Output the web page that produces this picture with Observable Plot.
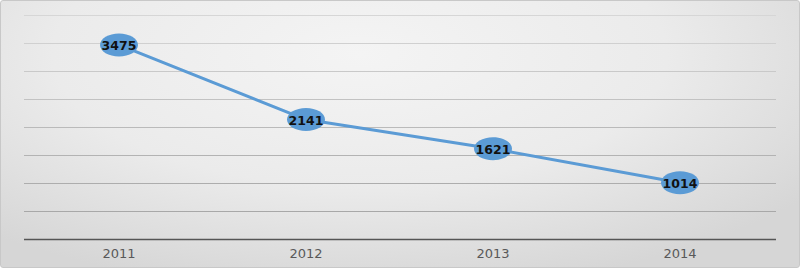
<!DOCTYPE html>
<html><head><meta charset="utf-8">
<script src="https://cdn.jsdelivr.net/npm/d3@7"></script>
<script src="https://cdn.jsdelivr.net/npm/@observablehq/plot@0.6"></script>
<style>
html,body{margin:0;padding:0;}
#chart{width:800px;height:268px;box-sizing:border-box;border:1px solid #c8c8c8;border-radius:3px;
background:radial-gradient(ellipse 70% 90% at 45% 20%, #f4f4f4 0%, #ebebeb 55%, #d6d6d6 100%);overflow:hidden;}
svg{background:transparent !important;}
</style>
</head><body>
<div id="chart"></div>
<script>
const years = ["2011","2012","2013","2014"];
const values = [3475, 2141, 1621, 1014];
const gridTicks = [500,1000,1500,2000,2500,3000,3500,4000];
const gridColors = ["#a8a8a8","#adadad","#b3b3b3","#bababa","#c2c2c2","#c9c9c9","#d0d0d0","#d6d6d6"];

const data = years.map((y,i)=>({year:y, value:values[i]}));
const grid = gridTicks.map((t,i)=>({t, c:gridColors[i]}));

const ellipse = {
  draw(ctx, size) {
    const rx = 19, ry = 11.5, k = 0.5523;
    ctx.moveTo(rx, 0);
    ctx.bezierCurveTo(rx, ry*k, rx*k, ry, 0, ry);
    ctx.bezierCurveTo(-rx*k, ry, -rx, ry*k, -rx, 0);
    ctx.bezierCurveTo(-rx, -ry*k, -rx*k, -ry, 0, -ry);
    ctx.bezierCurveTo(rx*k, -ry, rx, -ry*k, rx, 0);
    ctx.closePath();
  }
};

const chart = Plot.plot({
  width: 798, height: 266,
  marginLeft: 23, marginRight: 25, marginTop: 14, marginBottom: 28,
  style: {background: "transparent", fontFamily: "'DejaVu Sans', sans-serif"},
  x: {type: "band", domain: years, padding: 0, label: null},
  y: {domain: [0, 4000], axis: null},
  marks: [
    Plot.ruleY(grid, {y: "t", stroke: "c", strokeWidth: 1.2, insetRight: -2}),
    Plot.ruleY([0], {stroke: "#555", strokeWidth: 1.5, insetRight: -2}),
    Plot.axisX({tickSize: 0, tickPadding: 9, fontSize: 13, color: "#595959", label: null, letterSpacing: 1}),
    Plot.line(data, {x: "year", y: "value", stroke: "#5b9bd5", strokeWidth: 3}),
    Plot.dot(data, {x: "year", y: "value", symbol: ellipse, r: 12, fill: "#5b9bd5", stroke: "none"}),
    Plot.text(data, {x: "year", y: "value", text: d => String(d.value), fontSize: 12.5, fontWeight: "bold", fill: "#111", dy: 1})
  ]
});
document.getElementById("chart").appendChild(chart);
</script>
</body></html>
